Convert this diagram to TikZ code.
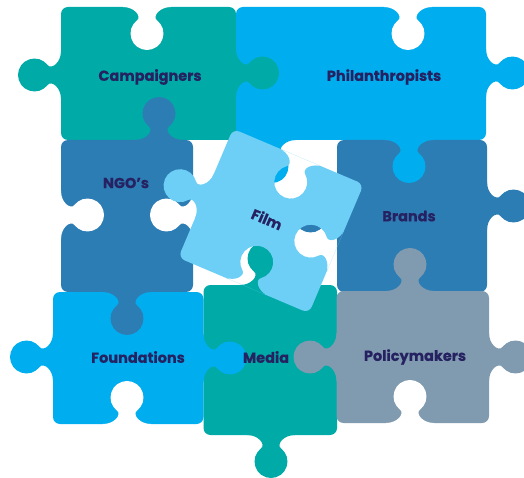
\documentclass[tikz,border=0pt]{standalone}
\usepackage{fontspec}
\setmainfont{Poppins}
\newfontfamily\lblfont{Poppins}[FakeBold=0.5]
\definecolor{tealP}{RGB}{0,170,166}
\definecolor{blueP}{RGB}{0,174,239}
\definecolor{steelP}{RGB}{45,125,181}
\definecolor{filmP}{RGB}{110,207,246}
\definecolor{grayP}{RGB}{128,155,175}
\definecolor{navyP}{RGB}{38,34,98}
\def\pzShape{(-24,-1) -- (-24,0) .. controls (-12,0) and (-5.2,9.8) .. (-10,13.4) .. controls (-15.62,17.69) and (-17.87,25.1) .. (-15.6,31.8) .. controls (-13.33,38.5) and (-7.07,43) .. (0,43) .. controls (7.07,43) and (13.33,38.5) .. (15.6,31.8) .. controls (17.87,25.1) and (15.62,17.69) .. (10,13.4) .. controls (5.2,9.8) and (12,0) .. (24,0) -- (24,-1) -- cycle}
\def\pzHole{(-24,0) .. controls (-12,0) and (-5.2,9.8) .. (-10,13.4) .. controls (-15.62,17.69) and (-17.87,25.1) .. (-15.6,31.8) .. controls (-13.33,38.5) and (-7.07,43) .. (0,43) .. controls (7.07,43) and (13.33,38.5) .. (15.6,31.8) .. controls (17.87,25.1) and (15.62,17.69) .. (10,13.4) .. controls (5.2,9.8) and (12,0) .. (24,0) -- cycle}
\begin{document}
\begin{tikzpicture}[x=1pt,y=-1pt,
  lbl/.style={text=navyP, font=\lblfont\bfseries\fontsize{14.5}{15}\selectfont, inner sep=0pt},
  body/.style={rounded corners=7}]
\useasboundingbox (0,0) rectangle (524,478);
\clip (0,0) rectangle (524,478);
% bodies
\fill[tealP, body]  (61,7) rectangle (236,140);
\fill[blueP, body]  (236,7) rectangle (486,140);
\fill[steelP, body] (61,140) rectangle (193,292);
\fill[steelP, body] (337,140) rectangle (487,292);
\fill[blueP, body]  (53,292) rectangle (203.5,424);
\fill[tealP, body]  (203.5,285) rectangle (337,435);
\fill[grayP, body]  (336.5,291) rectangle (489,423);
% open holes
\fill[white, shift={(147,7)}] \pzShape;
\fill[white, shift={(408,7)}] \pzShape;
\fill[white, shift={(61,215)}, rotate=90] \pzShape;
\fill[white, shift={(193,215)}, rotate=-90] \pzShape;
\fill[white, shift={(127,424)}, rotate=180] \pzShape;
\fill[white, shift={(410,423)}, rotate=180] \pzShape;
% tabs
\fill[tealP, shift={(61,75)}, rotate=-90] \pzShape;
\fill[tealP, shift={(236,73)}, rotate=90] \pzShape;
\fill[blueP, shift={(486,73)}, rotate=90] \pzShape;
\fill[blueP, shift={(409,140)}] \pzShape;
\fill[blueP, shift={(272,140)}] \pzShape;
\fill[steelP, shift={(159,140)}, rotate=180] \pzShape;
\fill[steelP, shift={(127,292)}] \pzShape;
\fill[steelP, shift={(337,216)}, rotate=-90] \pzShape;
\fill[steelP, shift={(487,206)}, rotate=90] \pzShape;
\fill[blueP, shift={(53,357)}, rotate=-90] \pzShape;
\fill[blueP, shift={(203.5,358)}, rotate=90] \pzShape;
\fill[tealP, shift={(264,285)}, rotate=180] \pzShape;
\fill[tealP, shift={(271,435)}] \pzShape;
\fill[grayP, shift={(410,291)}, rotate=180] \pzShape;
\fill[grayP, shift={(336.5,357)}, rotate=-90] \pzShape;
\fill[grayP, shift={(489,357)}, rotate=90] \pzShape;
% film piece
\begin{scope}[shift={(271,221)}, rotate=-23]
\fill[filmP, even odd rule] {[rounded corners=7] (-71,-70) rectangle (71,70)}
  {[shift={(3,-70)}] \pzHole}
  {[shift={(71,3)}, rotate=-90] \pzHole}
  {[shift={(3,70)}, rotate=180] \pzHole};
\fill[filmP, shift={(-71,3)}, rotate=-90] \pzShape;
\end{scope}
% labels
\node[lbl] (campaigners) at (150,77) {Campaigners};
\node[lbl] (philanthropists) at (384,77) {Philanthropists};
\node[lbl] (ngos) at (126,183) {NGO’s};
\node[lbl, rotate=-23] (film) at (267,219) {Film};
\node[lbl] (brands) at (409,216) {Brands};
\node[lbl] (foundations) at (138,357) {Foundations};
\node[lbl] (media) at (266,357) {Media};
\node[lbl] (policymakers) at (415,357) {Policymakers};
\end{tikzpicture}
\end{document}
